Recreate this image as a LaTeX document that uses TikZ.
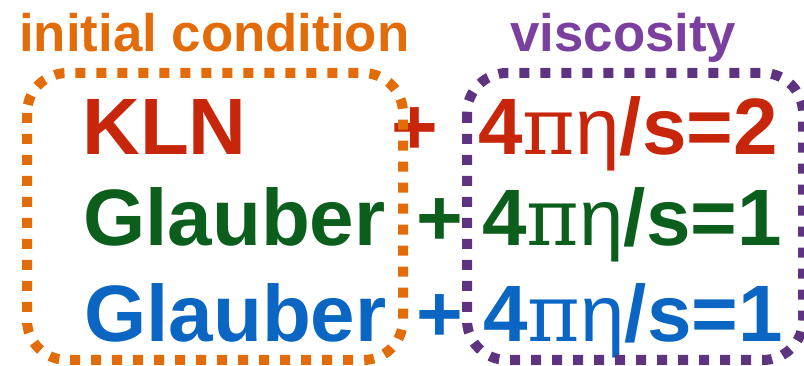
\documentclass[tikz,border=0pt]{standalone}
\usepackage{fontspec}
\setmainfont{Liberation Sans}
\newfontfamily\greekfont{DejaVu Serif}

\definecolor{icorange}{HTML}{E36C0A}
\definecolor{viscpurple}{HTML}{7B3F9F}
\definecolor{boxpurple}{HTML}{5E3480}
\definecolor{klnred}{HTML}{C8260A}
\definecolor{glbgreen}{HTML}{0C5E1C}
\definecolor{glbblue}{HTML}{0A66C2}

\newcommand{\etas}{4{\greekfont\mdseries π}{\mdseries η}/s}

\tikzset{
	dotbox/.style={line width=7.5pt, dash pattern=on 7.5pt off 8.25pt, rounded corners=30pt},
	heading/.style={anchor=base west, inner sep=0pt, font=\fontsize{39.6}{40}\selectfont\bfseries},
	entry/.style={anchor=base west, inner sep=0pt, font=\fontsize{60}{60}\selectfont\bfseries},
}

\begin{document}
\begin{tikzpicture}[x=0.75pt, y=-0.75pt]
			%%%%% START %%%%%
			\useasboundingbox (0, 0) rectangle (804, 366);
			
			\node[heading, text=icorange] (icHead) at (19, 52) {initial condition};
			\node[heading, text=viscpurple] (viscHead) at (510, 52) {viscosity};
			
			% first row
			\node[entry, text=klnred] (kln) at (82, 155) {KLN};
			\node[entry, text=klnred] (plusA) at (391, 155) {+};
			\node[entry, text=klnred] (etaA) at (478, 155) {\etas=2};
			
			% second row
			\node[entry, text=glbgreen] (glbA) at (83, 246) {Glauber};
			\node[entry, text=glbgreen] (plusB) at (416, 246) {+};
			\node[entry, text=glbgreen] (etaB) at (482, 246) {\etas=1};
			
			% third row
			\node[entry, text=glbblue] (glbB) at (84, 342) {Glauber};
			\node[entry, text=glbblue] (plusC) at (416, 342) {+};
			\node[entry, text=glbblue] (etaC) at (483, 342) {\etas=1};
			
			% dotted frames go on top of the text
			\draw[dotbox, icorange] (27, 73) rectangle (403, 360);
			\draw[dotbox, boxpurple] (467, 73) rectangle (803, 360);
			%%%%% END %%%%%
\end{tikzpicture}
\end{document}
